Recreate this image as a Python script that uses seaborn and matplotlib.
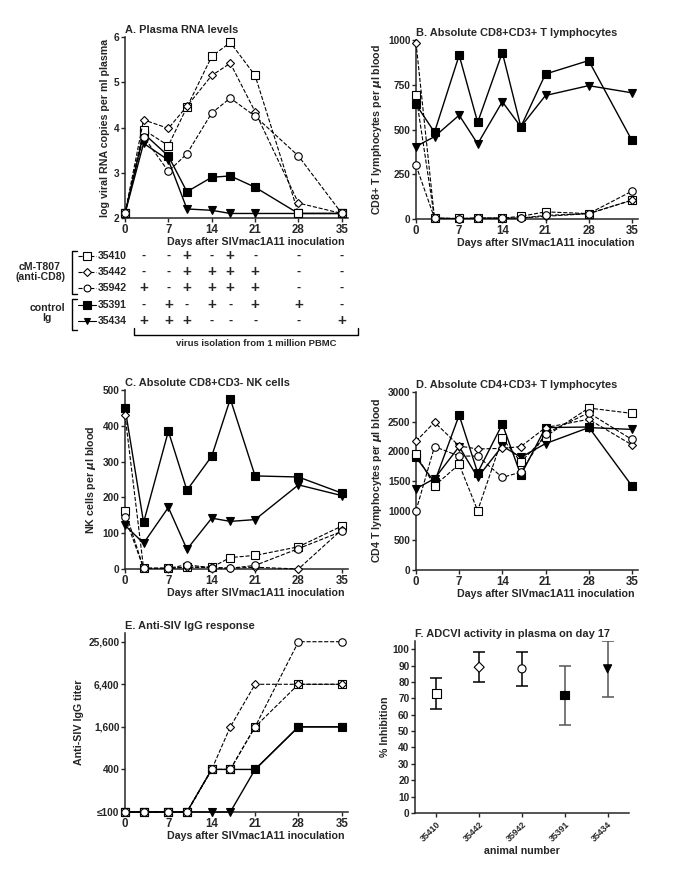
import numpy as np
import pandas as pd
import matplotlib
matplotlib.use('Agg')
import matplotlib.pyplot as plt
import matplotlib.transforms as mtransforms
import seaborn as sns

sns.set_theme(style='ticks')
plt.rcParams['font.family'] = ['Liberation Sans', 'DejaVu Sans']
plt.rcParams['font.weight'] = 'bold'
plt.rcParams['axes.labelweight'] = 'bold'
plt.rcParams['axes.titleweight'] = 'bold'

days = [0, 3, 7, 10, 14, 17, 21, 28, 35]
animals = ['35410', '35442', '35942', '35391', '35434']

# A. plasma RNA (log copies / ml)
rna = {
    '35410': [2.1, 3.95, 3.6, 4.45, 5.57, 5.88, 5.15, 2.1, 2.1],
    '35442': [2.1, 4.17, 3.98, 4.47, 5.15, 5.42, 4.35, 2.33, 2.1],
    '35942': [2.1, 3.8, 3.03, 3.42, 4.32, 4.65, 4.25, 3.37, 2.1],
    '35391': [2.1, 3.87, 3.37, 2.58, 2.9, 2.93, 2.68, 2.1, 2.1],
    '35434': [2.1, 3.65, 3.28, 2.2, 2.17, 2.1, 2.1, 2.1, 2.1],
}
# B. CD8+CD3+ T cells
cd8 = {
    '35410': [690, 5, 3, 5, 5, 15, 40, 30, 105],
    '35442': [985, 5, 2, 5, 5, 5, 15, 30, 105],
    '35942': [300, 5, 2, 5, 5, 5, 20, 30, 155],
    '35391': [640, 485, 915, 540, 930, 515, 810, 885, 440],
    '35434': [405, 460, 580, 420, 655, 515, 690, 745, 705],
}
# C. CD8+CD3- NK cells
nk = {
    '35410': [163, 2, 2, 5, 5, 32, 38, 62, 120],
    '35442': [430, 2, 2, 5, 5, 2, 5, 0, 110],
    '35942': [145, 2, 2, 12, 3, 2, 10, 57, 105],
    '35391': [450, 130, 385, 220, 315, 475, 260, 257, 212],
    '35434': [122, 72, 172, 55, 142, 133, 138, 235, 205],
}
# D. CD4+CD3+ T cells
cd4 = {
    '35410': [1950, 1420, 1780, 1000, 2220, 1820, 2250, 2730, 2640],
    '35442': [2170, 2490, 2090, 2040, 2050, 2080, 2400, 2540, 2110],
    '35942': [1000, 2080, 1920, 1920, 1560, 1650, 2300, 2650, 2200],
    '35391': [1900, 1480, 2610, 1640, 2460, 1600, 2400, 2410, 1420],
    '35434': [1370, 1540, 2080, 1560, 2090, 1900, 2130, 2400, 2370],
}
# E. anti-SIV IgG titer
igg = {
    '35410': [100, 100, 100, 100, 400, 400, 1600, 6400, 6400],
    '35442': [100, 100, 100, 100, 400, 1600, 6400, 6400, 6400],
    '35942': [100, 100, 100, 100, 400, 400, 1600, 25600, 25600],
    '35391': [100, 100, 100, 100, 400, 400, 400, 1600, 1600],
    '35434': [100, 100, 100, 100, 100, 100, 400, 1600, 1600],
}
# F. ADCVI on day 17
adcvi_mean = [73, 89, 88, 72, 88]
adcvi_err = [9.5, 9, 10.5, 18, 17]

# virus isolation table (days 3..35)
iso_days = [3, 7, 10, 14, 17, 21, 28, 35]
isolation = {
    '35410': '--+-+---',
    '35442': '--++++--',
    '35942': '+-++++--',
    '35391': '-+-+-++-',
    '35434': '+++----+',
}

style = {
    '35410': dict(marker='s', mfc='white', ls='--'),
    '35442': dict(marker='D', mfc='white', ls='--'),
    '35942': dict(marker='o', mfc='white', ls='--'),
    '35391': dict(marker='s', mfc='black', ls='-'),
    '35434': dict(marker='v', mfc='black', ls='-'),
}
msize = {'s': 5.8, 'D': 4.4, 'o': 5.4, 'v': 5.4}

W, H = 685, 876
fig = plt.figure(figsize=(W / 100, H / 100), dpi=100)


def px_axes(left, top, right, bottom):
    return fig.add_axes([left / W, 1 - bottom / H, (right - left) / W, (bottom - top) / H])


def draw_lines(ax, values):
    df = pd.DataFrame([(a, d, v) for a in animals for d, v in zip(days, values[a])],
                      columns=['animal', 'day', 'value'])
    for a in animals:
        st = style[a]
        sub = df[df['animal'] == a]
        sns.lineplot(data=sub, x='day', y='value', ax=ax, color='black',
                     linestyle=st['ls'], lw=1.0 if st['ls'] == '-' else 0.8,
                     marker=st['marker'], ms=msize[st['marker']], mfc=st['mfc'],
                     mec='black', mew=0.8, clip_on=False, zorder=3 if st['ls'] == '-' else 4)


def style_axes(ax, title, ylabel, xlabel=True):
    sns.despine(ax=ax)
    ax.set_xlim(0, 36)
    ax.set_xticks([0, 7, 14, 21, 28, 35])
    ax.tick_params(labelsize=7.3, length=3, width=1, pad=1)
    for lab in ax.get_xticklabels():
        lab.set_fontsize(8.3)
    for s in ax.spines.values():
        s.set_linewidth(1.1)
    ax.set_title(title, fontsize=7.9, loc='left', pad=3)
    ax.set_ylabel(ylabel, fontsize=7.7, labelpad=3)
    ax.set_xlabel('Days after SIVmac1A11 inoculation' if xlabel else '',
                  fontsize=7.7, labelpad=1, loc='right')
    ax.xaxis.label.set_x(0.985)


# A
axA = px_axes(125, 37, 348, 218)
draw_lines(axA, rna)
axA.set_ylim(2, 6)
axA.set_yticks([2, 3, 4, 5, 6])
style_axes(axA, 'A. Plasma RNA levels', 'log viral RNA copies per ml plasma')
axA.title.set_position((0.03, 1))

# table under A
tr = mtransforms.blended_transform_factory(axA.transData, fig.transFigure)
rows_y = [256, 272, 288, 305, 321]
for a, y in zip(animals, rows_y):
    for d, sign in zip(iso_days, isolation[a]):
        fig.text(d, 1 - y / H, sign, transform=tr, ha='center', va='center',
                 fontsize=11 if sign == '+' else 9, fontweight='bold')
    st = style[a]
    fig.add_artist(plt.Line2D([78 / W, 96 / W], [1 - y / H] * 2, color='black',
                              ls=st['ls'], lw=0.8))
    fig.add_artist(plt.Line2D([87 / W], [1 - y / H], color='black', marker=st['marker'],
                              ms=msize[st['marker']] - 0.5, mfc=st['mfc'], mec='black', mew=0.8))
    fig.text(98 / W, 1 - y / H, a, ha='left', va='center', fontsize=7.6, fontweight='bold')

for top, bot in [(251, 294), (299, 330)]:
    xs = np.array([77, 72, 72, 77]) / W
    ys = 1 - np.array([top, top, bot, bot]) / H
    fig.add_artist(plt.Line2D(xs, ys, color='black', lw=1))
fig.text(40 / W, 1 - 272 / H, 'cM-T807\n(anti-CD8)', ha='center', va='center',
         fontsize=7.6, fontweight='bold', linespacing=1.0)
fig.text(47 / W, 1 - 313 / H, 'control\nIg', ha='center', va='center',
         fontsize=7.6, fontweight='bold', linespacing=1.0)
fig.add_artist(plt.Line2D(np.array([134, 134, 358, 358]) / W,
                          1 - np.array([328, 335, 335, 328]) / H, color='black', lw=1))
fig.text(256 / W, 1 - 344 / H, 'virus isolation from 1 million PBMC', ha='center',
         va='center', fontsize=6.8, fontweight='bold')

# B
axB = px_axes(416, 40, 638, 219)
draw_lines(axB, cd8)
axB.set_ylim(0, 1000)
axB.set_yticks([0, 250, 500, 750, 1000])
style_axes(axB, 'B. Absolute CD8+CD3+ T lymphocytes', r'CD8+ T lymphocytes per $\mathit{\mu}$l blood')
axB.title.set_position((0.03, 1))

# C
axC = px_axes(125, 390, 348, 569)
draw_lines(axC, nk)
axC.set_ylim(0, 500)
axC.set_yticks([0, 100, 200, 300, 400, 500])
style_axes(axC, 'C. Absolute CD8+CD3- NK cells', r'NK cells per $\mathit{\mu}$l blood')
axC.title.set_position((0.03, 1))

# D
axD = px_axes(416, 392, 638, 570)
draw_lines(axD, cd4)
axD.set_ylim(0, 3000)
axD.set_yticks([0, 500, 1000, 1500, 2000, 2500, 3000])
style_axes(axD, 'D. Absolute CD4+CD3+ T lymphocytes', r'CD4 T lymphocytes per $\mathit{\mu}$l blood')
axD.title.set_position((0.03, 1))

# E
axE = px_axes(125, 633, 348, 812)
axE.set_yscale('log', base=2)
draw_lines(axE, igg)
axE.set_ylim(100, 34000)
axE.set_yticks([100, 400, 1600, 6400, 25600])
axE.set_yticklabels(['\u2264100', '400', '1,600', '6,400', '25,600'])
axE.minorticks_off()
style_axes(axE, 'E. Anti-SIV IgG response', 'Anti-SIV IgG titer')
axE.set_yticks([], minor=True)
axE.title.set_position((0.03, 1))

# F
axF = px_axes(415, 641, 629, 813)
fmark = ['s', 'D', 'o', 's', 'v']
ffc = ['white', 'white', 'white', 'black', 'black']
fec = ['black', 'black', 'black', '#555555', '#555555']
fsize = [40, 26, 34, 40, 34]
xpos = np.arange(len(animals))
for i in range(len(animals)):
    axF.errorbar(xpos[i], adcvi_mean[i], yerr=adcvi_err[i], color=fec[i], lw=1.1,
                 capsize=4, capthick=1.1, fmt='none', zorder=2)
sns.scatterplot(x=xpos, y=adcvi_mean, ax=axF, style=animals, markers=dict(zip(animals, fmark)),
                hue=animals, palette=dict(zip(animals, ffc)), size=animals,
                sizes=dict(zip(animals, fsize)), edgecolor='black',
                linewidth=0.8, legend=False, zorder=3)
sns.despine(ax=axF)
axF.set_xlim(-0.5, 4.5)
axF.set_ylim(0, 105)
axF.set_yticks(range(0, 101, 10))
axF.set_xticks(xpos)
axF.set_xticklabels(animals, rotation=45, ha='right', rotation_mode='anchor', fontsize=6.3)
axF.tick_params(axis='y', labelsize=7.3, length=3, width=1, pad=1)
axF.tick_params(axis='x', length=3, width=1, pad=2)
for s in axF.spines.values():
    s.set_linewidth(1.1)
axF.set_title('F. ADCVI activity in plasma on day 17', fontsize=7.9, loc='left', pad=3)
axF.title.set_position((-0.02, 1))
axF.set_ylabel('% Inhibition', fontsize=7.7, labelpad=2)
axF.set_xlabel('animal number', fontsize=7.7, labelpad=2)

fig.savefig('out.png', dpi=100)
